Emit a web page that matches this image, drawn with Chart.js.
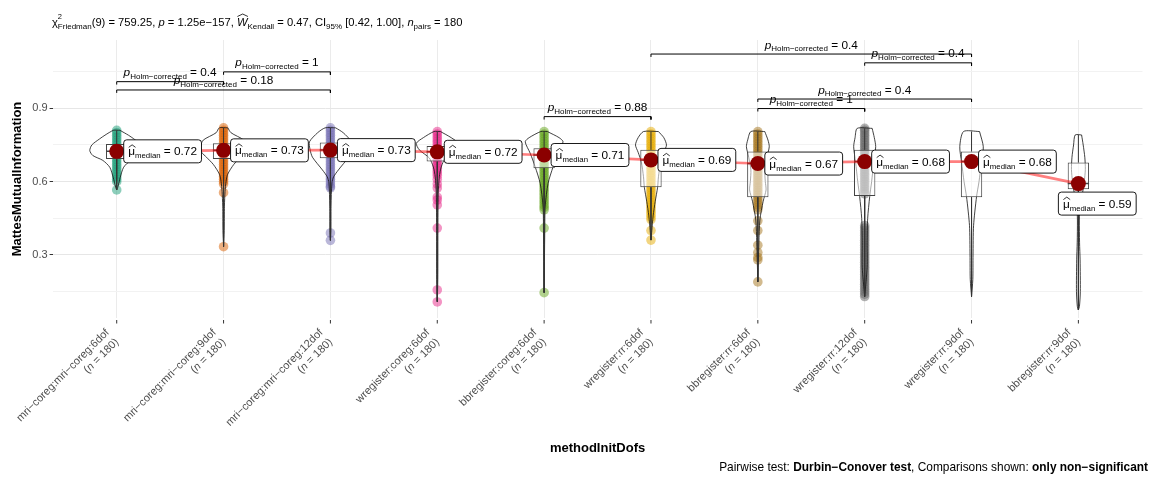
<!DOCTYPE html>
<html><head><meta charset="utf-8">
<script src="https://cdn.jsdelivr.net/npm/chart.js@4.4.1/dist/chart.umd.min.js"></script>
<style>html,body{margin:0;padding:0;background:#fff;}#wrap{width:1150px;height:477px;}</style>
</head><body><div id="wrap"><canvas id="c" width="1150" height="477"></canvas></div>
<script>
// ---------------- data ----------------
const categories = ['mri−coreg:mri−coreg:6dof','mri−coreg:mri−coreg:9dof','mri−coreg:mri−coreg:12dof','wregister:coreg:6dof','bbregister:coreg:6dof','wregister:rr:6dof','bbregister:rr:6dof','wregister:rr:12dof','wregister:rr:9dof','bbregister:rr:9dof'];
const groupN = [180,180,180,180,180,180,180,180,180,180];
const medians = [0.724,0.728,0.729,0.722,0.709,0.689,0.674,0.682,0.682,0.592];
const q1 = [0.693,0.693,0.696,0.682,0.655,0.577,0.536,0.541,0.536,0.569];
const q3 = [0.754,0.757,0.760,0.746,0.737,0.730,0.723,0.730,0.723,0.678];
const minVals = [0.566,0.334,0.360,0.109,0.146,0.361,0.190,0.130,0.130,0.075];
const maxVals = [0.810,0.820,0.820,0.805,0.805,0.805,0.805,0.818,0.805,0.791];

const pts1 = [0.810,0.800,0.790,0.780,0.770,0.760,0.750,0.740,0.730,0.720,0.710,0.700,0.690,0.680,0.670,0.660,0.650,0.640,0.630,0.620,0.610,0.600,0.566];
const pts2 = [0.820,0.810,0.800,0.790,0.780,0.770,0.760,0.750,0.740,0.730,0.720,0.710,0.700,0.690,0.680,0.670,0.660,0.650,0.640,0.630,0.620,0.610,0.600,0.590,0.555,0.334];
const pts3 = [0.820,0.810,0.800,0.790,0.780,0.770,0.760,0.750,0.740,0.730,0.720,0.710,0.700,0.690,0.680,0.670,0.660,0.650,0.640,0.630,0.620,0.610,0.600,0.590,0.580,0.575,0.390,0.360];
const pts4 = [0.805,0.795,0.785,0.775,0.765,0.755,0.745,0.735,0.725,0.715,0.705,0.695,0.685,0.675,0.665,0.655,0.645,0.635,0.625,0.610,0.590,0.574,0.537,0.525,0.505,0.410,0.157,0.108];
const pts5 = [0.805,0.795,0.785,0.775,0.765,0.755,0.745,0.735,0.725,0.715,0.705,0.695,0.685,0.675,0.665,0.655,0.645,0.635,0.625,0.615,0.605,0.595,0.585,0.575,0.565,0.555,0.545,0.535,0.525,0.515,0.505,0.495,0.485,0.410,0.146];
const pts6 = [0.805,0.795,0.785,0.775,0.765,0.755,0.745,0.735,0.725,0.715,0.705,0.695,0.685,0.675,0.665,0.655,0.645,0.635,0.625,0.615,0.605,0.595,0.585,0.575,0.565,0.555,0.545,0.535,0.525,0.515,0.505,0.495,0.485,0.475,0.465,0.455,0.445,0.400,0.361];
const pts7 = [0.805,0.795,0.785,0.775,0.765,0.755,0.745,0.735,0.725,0.715,0.705,0.695,0.685,0.675,0.665,0.655,0.645,0.635,0.625,0.615,0.605,0.595,0.585,0.575,0.565,0.555,0.545,0.535,0.525,0.515,0.505,0.495,0.485,0.440,0.400,0.340,0.310,0.290,0.280,0.190];
const pts8 = [0.818,0.810,0.800,0.790,0.780,0.770,0.760,0.750,0.740,0.730,0.720,0.710,0.700,0.690,0.680,0.670,0.660,0.650,0.640,0.630,0.620,0.610,0.600,0.590,0.580,0.570,0.560,0.550,0.420,0.410,0.400,0.390,0.380,0.370,0.360,0.350,0.340,0.330,0.320,0.310,0.300,0.290,0.280,0.270,0.260,0.250,0.240,0.230,0.220,0.210,0.200,0.190,0.180,0.170,0.160,0.150,0.140,0.130];
const pts9 = [];
const pts10 = [];
const groupPoints = [pts1,pts2,pts3,pts4,pts5,pts6,pts7,pts8,pts9,pts10];

const violinY = [
 [0.810,0.790,0.775,0.750,0.727,0.707,0.687,0.659,0.618,0.577,0.566],
 [0.820,0.800,0.770,0.745,0.720,0.700,0.670,0.630,0.600,0.560,0.500,0.400,0.334],
 [0.820,0.800,0.763,0.730,0.700,0.648,0.620,0.595,0.500,0.400,0.360],
 [0.805,0.780,0.757,0.730,0.697,0.660,0.620,0.550,0.400,0.200,0.109],
 [0.805,0.780,0.763,0.716,0.661,0.593,0.500,0.400,0.146],
 [0.805,0.780,0.750,0.720,0.680,0.620,0.577,0.520,0.460,0.400,0.361],
 [0.805,0.770,0.743,0.700,0.648,0.600,0.566,0.520,0.443,0.350,0.190],
 [0.818,0.780,0.743,0.680,0.600,0.539,0.450,0.350,0.250,0.130],
 [0.805,0.743,0.680,0.600,0.539,0.420,0.300,0.200,0.130],
 [0.791,0.750,0.700,0.650,0.600,0.550,0.500,0.443,0.350,0.280,0.150,0.090,0.075]
];
const violinDensity = [
 [0.030,0.110,0.160,0.233,0.252,0.224,0.130,0.065,0.033,0.010,0.000],
 [0.040,0.070,0.190,0.215,0.205,0.160,0.095,0.038,0.023,0.014,0.008,0.006,0.000],
 [0.050,0.120,0.196,0.190,0.168,0.075,0.030,0.014,0.006,0.005,0.000],
 [0.030,0.130,0.196,0.168,0.075,0.037,0.019,0.009,0.006,0.005,0.000],
 [0.030,0.140,0.177,0.130,0.084,0.037,0.010,0.006,0.000],
 [0.070,0.120,0.145,0.120,0.090,0.070,0.062,0.040,0.020,0.008,0.000],
 [0.065,0.095,0.107,0.085,0.065,0.070,0.077,0.050,0.019,0.010,0.000],
 [0.070,0.090,0.103,0.085,0.065,0.047,0.028,0.023,0.023,0.000],
 [0.075,0.110,0.093,0.070,0.047,0.019,0.014,0.012,0.000],
 [0.030,0.045,0.060,0.065,0.055,0.037,0.015,0.009,0.011,0.016,0.018,0.010,0.000]
];

const sigFrom = [1,2,1,5,6,8,7,7];
const sigTo   = [2,3,3,6,9,9,9,8];
const sigLevel = [1.009,1.049,0.975,0.866,1.122,1.086,0.938,0.899];
const sigP = ['0.4','1','0.18','0.88','0.4','0.4','0.4','1'];

const yGridValues = [0.15,0.30,0.45,0.60,0.75,0.90,1.05];
const yTickLabels = ['', '0.3', '', '0.6', '', '0.9', ''];

// ---------------- styles ----------------
const FAM = "'Liberation Sans', Arial, Helvetica, sans-serif";
const pointColors = ['rgba(27,158,119,0.5)','rgba(217,95,2,0.5)','rgba(117,112,179,0.5)','rgba(231,41,138,0.5)','rgba(102,166,30,0.5)','rgba(230,171,2,0.5)','rgba(166,118,29,0.5)','rgba(102,102,102,0.5)','rgba(127,127,127,0.5)','rgba(127,127,127,0.5)'];
const TIP = 0.012;

// ---------------- datasets ----------------
const datasets = [];
groupPoints.forEach((arr, g) => {
  if (!arr.length) return;
  datasets.push({type:'scatter', data: arr.map(v => ({x:g+1, y:v})), backgroundColor: pointColors[g], borderWidth:0, pointRadius:4.8, order:50});
});
violinY.forEach((ys, g) => {
  const right = ys.map((v,k) => ({x: g+1+violinDensity[g][k], y: v}));
  const left = ys.map((v,k) => ({x: g+1-violinDensity[g][k], y: v})).reverse();
  datasets.push({type:'scatter', showLine:true, data:[...right, ...left, right[0]], borderColor:'#111', borderWidth:0.8, pointRadius:0, tension:0.25, fill:false, order:40});
});
medians.forEach((m, g) => {
  datasets.push({type:'scatter', showLine:true, data:[{x:g+1,y:q3[g]},{x:g+1,y:maxVals[g]}], borderColor:'#333', borderWidth:1, pointRadius:0, order:36});
  datasets.push({type:'scatter', showLine:true, data:[{x:g+1,y:q1[g]},{x:g+1,y:minVals[g]}], borderColor:'#333', borderWidth:1, pointRadius:0, order:36});
});
datasets.push({type:'bar', data: q1.map((v,g) => ({x:g+1, y:[v, q3[g]]})), backgroundColor:'rgba(255,255,255,0.55)', borderColor:'#444', borderWidth:1, borderSkipped:false, barPercentage:1, categoryPercentage:0.2, order:30});
medians.forEach((m, g) => {
  datasets.push({type:'scatter', showLine:true, data:[{x:g+0.9,y:m},{x:g+1.1,y:m}], borderColor:'#444', borderWidth:1.5, pointRadius:0, order:29});
});
sigFrom.forEach((f, k) => {
  const t = sigTo[k], y = sigLevel[k];
  datasets.push({type:'scatter', showLine:true, data:[{x:f,y:y-TIP},{x:f,y:y},{x:t,y:y},{x:t,y:y-TIP}], borderColor:'#000', borderWidth:1, pointRadius:0, order:20});
});
datasets.push({type:'scatter', showLine:true, data: medians.map((v,g)=>({x:g+1,y:v})), borderColor:'rgba(255,0,0,0.5)', borderWidth:2.6, pointRadius:0, order:10});
datasets.push({type:'scatter', data: medians.map((v,g)=>({x:g+1,y:v})), backgroundColor:'#8B0000', borderWidth:0, pointRadius:7.5, order:5});

// ---------------- text helpers ----------------
function segWidth(ctx, segs){ let w=0; segs.forEach(s=>{ ctx.font=s.font; w += s.noAdv?0:ctx.measureText(s.t).width; }); return w; }
function drawSegs(ctx, segs, x, y){
  segs.forEach(s=>{
    ctx.font=s.font; const w = ctx.measureText(s.t).width;
    ctx.fillText(s.t, x, y + (s.dy||0));
    if (s.hat) { ctx.save(); ctx.lineWidth=0.8; ctx.strokeStyle=ctx.fillStyle; ctx.beginPath(); ctx.moveTo(x+0.5, y-s.hat+2.5); ctx.lineTo(x+w/2+0.5, y-s.hat); ctx.lineTo(x+w+0.5, y-s.hat+2.5); ctx.stroke(); ctx.restore(); }
    if (!s.noAdv) x += w;
  });
  return x;
}
function f(size, style){ return (style||'') + ' ' + size + 'px ' + FAM; }

const textPlugin = {
  id:'texts',
  beforeDraw(chart){ const c=chart.ctx; c.save(); c.fillStyle='#fff'; c.fillRect(0,0,chart.width,chart.height); c.restore(); },
  afterDraw(chart){
    const ctx = chart.ctx, xs = chart.scales.x, ys = chart.scales.y, area = chart.chartArea;
    ctx.save();
    ctx.textBaseline='alphabetic'; ctx.textAlign='left';
    // x tick marks and labels
    categories.forEach((c, i) => {
      const px = xs.getPixelForValue(i+1);
      ctx.strokeStyle='#333'; ctx.lineWidth=1;
      ctx.beginPath(); ctx.moveTo(px, area.bottom+2); ctx.lineTo(px, area.bottom+5.5); ctx.stroke();
      ctx.save();
      ctx.translate(px - 7, area.bottom + 15);
      ctx.rotate(-Math.PI/4);
      ctx.fillStyle='#4D4D4D';
      ctx.font = f(11); const w1 = ctx.measureText(c).width;
      ctx.fillText(c, -w1, 0);
      const s2 = [{t:'(',font:f(11)},{t:'n',font:f(11,'italic')},{t:' = ' + groupN[i] + ')',font:f(11)}];
      drawSegs(ctx, s2, -segWidth(ctx, s2), 13.4);
      ctx.restore();
    });
    // axis titles
    ctx.fillStyle='#000'; ctx.font = f(13,'bold'); ctx.textAlign='center'; ctx.textBaseline='middle';
    ctx.fillText('methodInitDofs', (area.left+area.right)/2, 448);
    ctx.save(); ctx.translate(17, (area.top+area.bottom)/2); ctx.rotate(-Math.PI/2); ctx.fillText('MattesMutualInformation', 0, 0); ctx.restore();
    ctx.textAlign='left'; ctx.textBaseline='alphabetic';
    // title
    const T=11.2, S=8;
    const title = [
      {t:'χ',font:f(T)},{t:'2',font:f(7.5),dy:-7.5,noAdv:true},{t:'Friedman',font:f(S),dy:3},
      {t:'(9) = 759.25, ',font:f(T)},{t:'p',font:f(T,'italic')},{t:' = 1.25e−157, ',font:f(T)},
      {t:'W',font:f(T,'italic'),hat:12},{t:'Kendall',font:f(S),dy:3},{t:' = 0.47, CI',font:f(T)},
      {t:'95%',font:f(S),dy:3},{t:' [0.42, 1.00], ',font:f(T)},{t:'n',font:f(T,'italic')},
      {t:'pairs',font:f(S),dy:3},{t:' = 180',font:f(T)}
    ];
    ctx.fillStyle='#000';
    drawSegs(ctx, title, 52, 26);
    // caption
    const cap = [{t:'Pairwise test: ',font:f(11.9)},{t:'Durbin−Conover test',font:f(11.9,'bold')},{t:', Comparisons shown: ',font:f(11.9)},{t:'only non−significant',font:f(11.9,'bold')}];
    drawSegs(ctx, cap, 1148 - segWidth(ctx, cap), 471);
    // significance labels
    sigFrom.forEach((fr, k) => {
      const x1 = xs.getPixelForValue(fr), x2 = xs.getPixelForValue(sigTo[k]), y = ys.getPixelForValue(sigLevel[k]);
      const segs = [{t:'p',font:f(11.8,'italic')},{t:'Holm−corrected',font:f(8),dy:2.5},{t:' = ' + sigP[k],font:f(11.8)}];
      ctx.fillStyle='#000';
      drawSegs(ctx, segs, (x1+x2)/2 - segWidth(ctx, segs)/2, y - 5.5);
    });
    // median labels
    medians.forEach((m, g) => {
      const px = xs.getPixelForValue(g+1), py = ys.getPixelForValue(m);
      const segs = [{t:'μ',font:f(11.8),hat:10.5},{t:'median',font:f(7.8),dy:3},{t:' = ' + m.toFixed(2),font:f(11.8)}];
      const w = segWidth(ctx, segs) + 9, h = 23;
      let lx, ty;
      if (g === medians.length-1) { lx = px - 20; ty = py + 8.5; } else { lx = px + 7; ty = py - h/2; }
      ctx.beginPath(); ctx.roundRect(lx, ty, w, h, 3);
      ctx.fillStyle='#fff'; ctx.fill(); ctx.lineWidth=0.9; ctx.strokeStyle='#000'; ctx.stroke();
      ctx.fillStyle='#000';
      drawSegs(ctx, segs, lx + 4.5, ty + h/2 + 4);
    });
    ctx.restore();
  }
};

new Chart(document.getElementById('c'), {
  type:'scatter',
  data:{datasets},
  options:{
    responsive:false, animation:false,
    layout:{padding:{top:40,right:2.4,bottom:0,left:0}},
    plugins:{legend:{display:false}, tooltip:{enabled:false}},
    scales:{
      x:{type:'linear', min:0.4, max:10.6, offset:false,
         afterBuildTicks: s => { s.ticks = categories.map((c,i)=>({value:i+1})); },
         ticks:{display:false}, grid:{color:'#EBEBEB', drawTicks:false, offset:false}, border:{display:false},
         afterFit: s => { s.height = 159; s.paddingLeft = 0; s.paddingRight = 0; }},
      y:{type:'linear', min:0.0423, max:1.1794,
         afterBuildTicks: s => { s.ticks = yGridValues.map(v=>({value:v})); },
         ticks:{callback:(v,i)=>yTickLabels[i], color:'#4D4D4D', font:{size:11, family:FAM}, padding:2},
         grid:{color: c => (yTickLabels[c.index] ? '#E6E6E6' : '#F2F2F2'), tickLength:3, tickColor: c => (yTickLabels[c.index] ? '#333' : 'rgba(0,0,0,0)')},
         border:{display:false},
         afterFit: s => { s.width = 52.6; s.paddingTop = 0; s.paddingBottom = 0; }}
    }
  },
  plugins:[textPlugin]
});
</script></body></html>
